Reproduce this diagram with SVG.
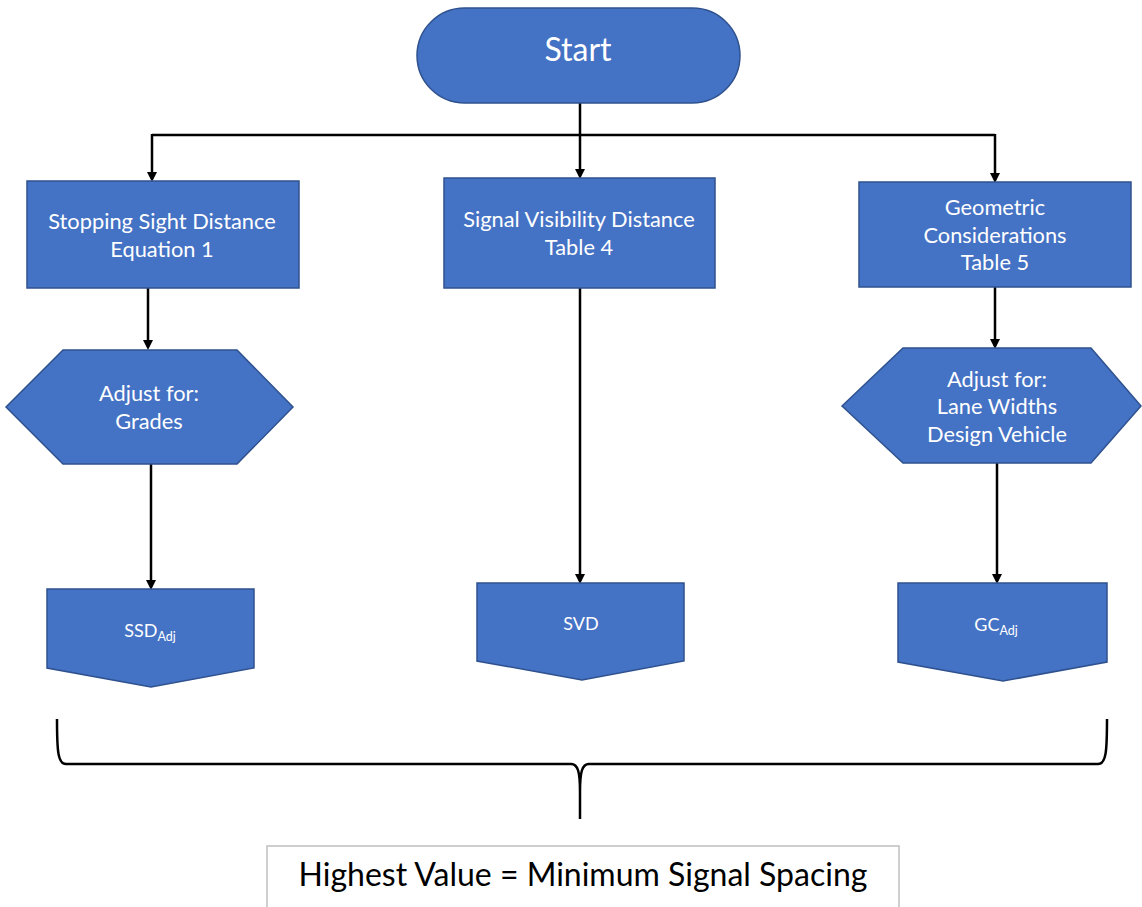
<svg xmlns="http://www.w3.org/2000/svg" width="1142" height="907" viewBox="0 0 1142 907">
<style>
.shape{fill:#4472C4;stroke:#2F528F;stroke-width:1.5}
.t{font-family:Lato,"Open Sans",sans-serif;fill:#fff;text-anchor:middle;font-size:21.8px}
.s{font-family:Lato,"Open Sans",sans-serif;fill:#fff;text-anchor:middle;font-size:18px}
.line{stroke:#000;stroke-width:2.5;fill:none}
</style>
<defs>
<marker id="ah" markerWidth="10" markerHeight="10" refX="7" refY="5" orient="auto" markerUnits="userSpaceOnUse" viewBox="0 0 10 10">
<path d="M0,0 L10,5 L0,10 z" fill="#000"/>
</marker>
</defs>
<rect width="1142" height="907" fill="#fff"/>
<g id="connectors">
<path class="line" d="M580,103 V176" marker-end="url(#ah)"/>
<path class="line" d="M152,135 H995"/>
<path class="line" d="M152,134 V179" marker-end="url(#ah)"/>
<path class="line" d="M995,134 V180" marker-end="url(#ah)"/>
<path class="line" d="M148,288 V347" marker-end="url(#ah)"/>
<path class="line" d="M995,287 V346" marker-end="url(#ah)"/>
<path class="line" d="M151,464 V587" marker-end="url(#ah)"/>
<path class="line" d="M580,288 V581" marker-end="url(#ah)"/>
<path class="line" d="M997,463 V581" marker-end="url(#ah)"/>
<path class="line" d="M57,719 C57,752 58,764 66,764 L571,764 C578,764 580,772 580,792 L580,819 M580,792 C580,772 582,764 589,764 L1098,764 C1106,764 1107,752 1107,719"/>
</g>
<g id="start">
<rect class="shape" x="417" y="8" width="323" height="95" rx="47.5"/>
<text class="t" x="578" y="61" style="font-size:32px">Start</text>
</g>
<g id="ssd">
<rect class="shape" x="27" y="181" width="272" height="107"/>
<text class="t" x="162" y="229">Stopping Sight Distance</text>
<text class="t" x="162" y="257">Equation 1</text>
</g>
<g id="svd">
<rect class="shape" x="444" y="178" width="271" height="110"/>
<text class="t" x="579" y="227">Signal Visibility Distance</text>
<text class="t" x="579" y="255">Table 4</text>
</g>
<g id="gc">
<rect class="shape" x="859" y="182" width="272" height="105"/>
<text class="t" x="995" y="215">Geometric</text>
<text class="t" x="995" y="243">Considerations</text>
<text class="t" x="995" y="270">Table 5</text>
</g>
<g id="adj-grades">
<polygon class="shape" points="6,407 63,350 237,350 293,407 237,464 63,464"/>
<text class="t" x="149" y="401">Adjust for:</text>
<text class="t" x="149" y="429">Grades</text>
</g>
<g id="adj-lanes">
<polygon class="shape" points="842,406 903,348 1091,348 1141,406 1091,463 903,463"/>
<text class="t" x="997" y="387">Adjust for:</text>
<text class="t" x="997" y="414">Lane Widths</text>
<text class="t" x="997" y="442">Design Vehicle</text>
</g>
<g id="ssd-adj">
<polygon class="shape" points="47,589 254,589 254,668 151,687 47,668"/>
<text class="s" x="150" y="637">SSD<tspan style="font-size:12.5px" dy="4">Adj</tspan></text>
</g>
<g id="svd-out">
<polygon class="shape" points="477,583 684,583 684,661 582,680 477,661"/>
<text class="s" x="581" y="630">SVD</text>
</g>
<g id="gc-adj">
<polygon class="shape" points="898,583 1107,583 1107,662 1003,681 898,662"/>
<text class="s" x="996" y="631">GC<tspan style="font-size:12.5px" dy="4">Adj</tspan></text>
</g>
<g id="result">
<rect x="267" y="846" width="632" height="62" fill="#fff" stroke="#bfbfbf" stroke-width="1.5"/>
<text x="583" y="886" style="font-family:Lato,'Open Sans',sans-serif;font-size:32px;fill:#000;text-anchor:middle">Highest Value = Minimum Signal Spacing</text>
</g>
</svg>
